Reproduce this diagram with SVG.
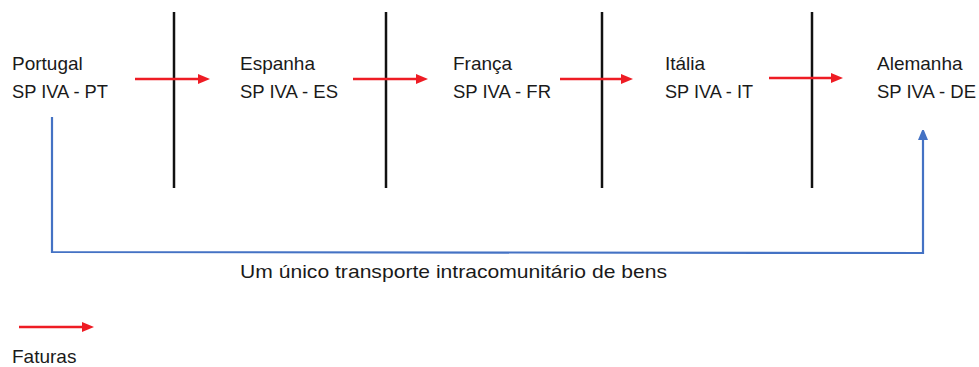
<svg xmlns="http://www.w3.org/2000/svg" width="979" height="367" viewBox="0 0 979 367">
<style>
text{font-family:"Liberation Sans",Arial,sans-serif;font-size:19px;fill:#1a1a1a}
.div{stroke:#111;stroke-width:2.5}
.inv{stroke:#ee1c24;stroke-width:2.5;fill:none;marker-end:url(#ra)}
.tr{stroke:#4472c4;stroke-width:2.2;fill:none;marker-end:url(#ba)}
</style>
<defs>
<marker id="ra" markerWidth="12" markerHeight="10" refX="2" refY="5" orient="auto" markerUnits="userSpaceOnUse"><path d="M0,0 L12,5 L0,10 Z" fill="#ee1c24"/></marker>
<marker id="ba" markerWidth="10" markerHeight="12" refX="2" refY="5" orient="auto" markerUnits="userSpaceOnUse"><path d="M0,0 L12,5 L0,10 Z" fill="#4472c4"/></marker>
</defs>
<rect width="979" height="367" fill="#fff"/>
<g id="dividers">
<line class="div" x1="174" y1="12" x2="174" y2="188"/>
<line class="div" x1="386" y1="12" x2="386" y2="188"/>
<line class="div" x1="602" y1="12" x2="602" y2="188"/>
<line class="div" x1="812" y1="12" x2="812" y2="188"/>
</g>
<g id="portugal"><text x="12" y="70">Portugal</text><text x="12" y="98" textLength="96" lengthAdjust="spacingAndGlyphs">SP IVA - PT</text></g>
<g id="espanha"><text x="240" y="70">Espanha</text><text x="240" y="98" textLength="98" lengthAdjust="spacingAndGlyphs">SP IVA - ES</text></g>
<g id="franca"><text x="453" y="70">França</text><text x="453" y="98" textLength="98" lengthAdjust="spacingAndGlyphs">SP IVA - FR</text></g>
<g id="italia"><text x="665" y="70">Itália</text><text x="665" y="98" textLength="88" lengthAdjust="spacingAndGlyphs">SP IVA - IT</text></g>
<g id="alemanha"><text x="877" y="70">Alemanha</text><text x="877" y="98" textLength="99" lengthAdjust="spacingAndGlyphs">SP IVA - DE</text></g>
<g id="connectors">
<line class="inv" x1="135" y1="79" x2="200" y2="79"/>
<line class="inv" x1="353" y1="79" x2="418" y2="79"/>
<line class="inv" x1="560" y1="79" x2="623" y2="79"/>
<line class="inv" x1="769" y1="78" x2="833" y2="78"/>
<polyline class="tr" points="52,117 52,252 923,253 923,138"/>
</g>
<g id="transport-label"><text x="240" y="278" textLength="427" lengthAdjust="spacingAndGlyphs">Um único transporte intracomunitário de bens</text></g>
<g id="legend">
<line class="inv" x1="19" y1="327" x2="84" y2="327"/>
<text x="12" y="363">Faturas</text>
</g>
</svg>
